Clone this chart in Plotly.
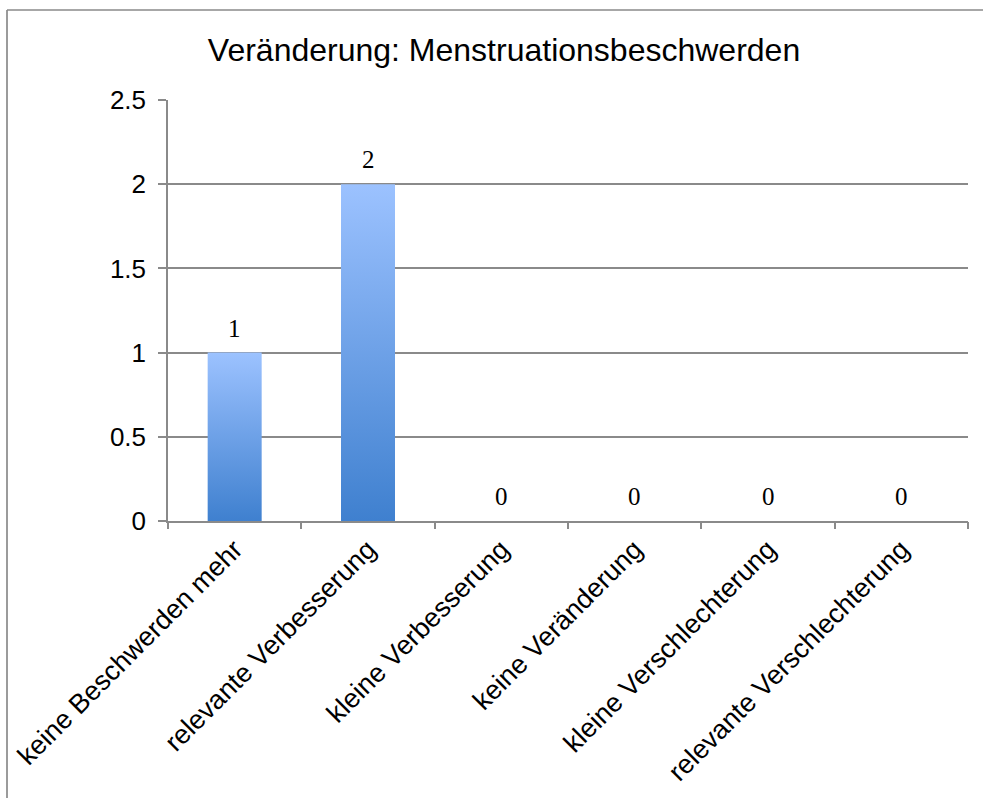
import plotly.graph_objects as go

# === Data
categories = [
    "keine Beschwerden mehr",
    "relevante Verbesserung",
    "kleine Verbesserung",
    "keine Veränderung",
    "kleine Verschlechterung",
    "relevante Verschlechterung",
]
values = [1, 2, 0, 0, 0, 0]
y_ticks = [0, 0.5, 1, 1.5, 2, 2.5]

title_text = "Veränderung: Menstruationsbeschwerden"

GRAY = "#8a8a8a"
BAR_DARK = "#3f80cf"
BAR_LIGHT = "#9cc2ff"
HALF_W = 0.2025  # half bar width in category units

W, H = 983, 798
L, T, R, B = 168, 100, 968, 521  # plot area in page pixels


def px_x(p):
    return (p - L) / (R - L)


def px_y(p):
    return (B - p) / (B - T)


fig = go.Figure()

# Gradient bars as filled shapes on a numeric axis
for i, v in enumerate(values):
    if v == 0:
        continue
    fig.add_trace(go.Scatter(
        x=[i - HALF_W, i + HALF_W, i + HALF_W, i - HALF_W, i - HALF_W],
        y=[0, 0, v, v, 0],
        mode="lines",
        line=dict(width=0, color=BAR_DARK),
        fill="toself",
        fillcolor=BAR_DARK,
        fillgradient=dict(
            type="vertical",
            colorscale=[[0, BAR_DARK], [1, BAR_LIGHT]],
            start=0,
            stop=v,
        ),
        hoverinfo="skip",
        showlegend=False,
    ))

# Dummy trace on the overlay axis so the boundary ticks are drawn
fig.add_trace(go.Scatter(
    x=[-0.5, 5.5], y=[0, 0], xaxis="x2", mode="lines",
    line=dict(width=0), hoverinfo="skip", showlegend=False,
))

# Data labels
for i, v in enumerate(values):
    fig.add_annotation(
        x=i, y=v, text=str(v), showarrow=False,
        yanchor="bottom", yshift=9,
        font=dict(family="Liberation Serif", size=25, color="black"),
    )

# Outer chart border: only the left and top edges fall inside the page
border = dict(color=GRAY, width=1.7)
fig.add_shape(type="line", xref="paper", yref="paper",
              x0=px_x(7), x1=px_x(7), y0=px_y(H + 10), y1=px_y(10),
              line=border, layer="below")
fig.add_shape(type="line", xref="paper", yref="paper",
              x0=px_x(7), x1=px_x(W + 10), y0=px_y(10), y1=px_y(10),
              line=border, layer="below")

fig.update_layout(
    width=W,
    height=H,
    margin=dict(l=L, r=W - R, t=T, b=H - B),
    paper_bgcolor="white",
    plot_bgcolor="white",
    font=dict(family="Liberation Sans, Arial", color="black"),
    title=dict(
        text=title_text,
        x=504 / W, xanchor="center", xref="container",
        y=1 - 50 / H, yanchor="middle", yref="container",
        font=dict(size=32, color="black"),
    ),
    xaxis=dict(
        range=[-0.5, 5.5],
        tickmode="array",
        tickvals=list(range(len(categories))),
        ticktext=categories,
        tickangle=-45,
        ticks="",
        tickfont=dict(size=27),
        showline=True, linecolor=GRAY, linewidth=1.5,
        showgrid=False, zeroline=False,
    ),
    xaxis2=dict(
        range=[-0.5, 5.5],
        overlaying="x", side="bottom", anchor="y",
        tickmode="array",
        tickvals=[k - 0.5 for k in range(len(categories) + 1)],
        ticks="outside", ticklen=7, tickcolor=GRAY, tickwidth=1.5,
        showticklabels=False, showgrid=False, zeroline=False,
    ),
    yaxis=dict(
        range=[0, 2.5],
        tickmode="array",
        tickvals=y_ticks,
        ticks="outside", ticklen=8, tickcolor=GRAY, tickwidth=1.5,
        ticklabelstandoff=7,
        tickfont=dict(size=26),
        showline=True, linecolor=GRAY, linewidth=1.5,
        showgrid=True, gridcolor=GRAY, gridwidth=1.5,
        zeroline=False,
    ),
)

# drop the default body margin so page pixels match figure pixels
fig.write_html(
    "out.html",
    config={"displayModeBar": False},
    post_script="document.body.style.margin = '0'; document.body.style.overflow = 'hidden';",
)
